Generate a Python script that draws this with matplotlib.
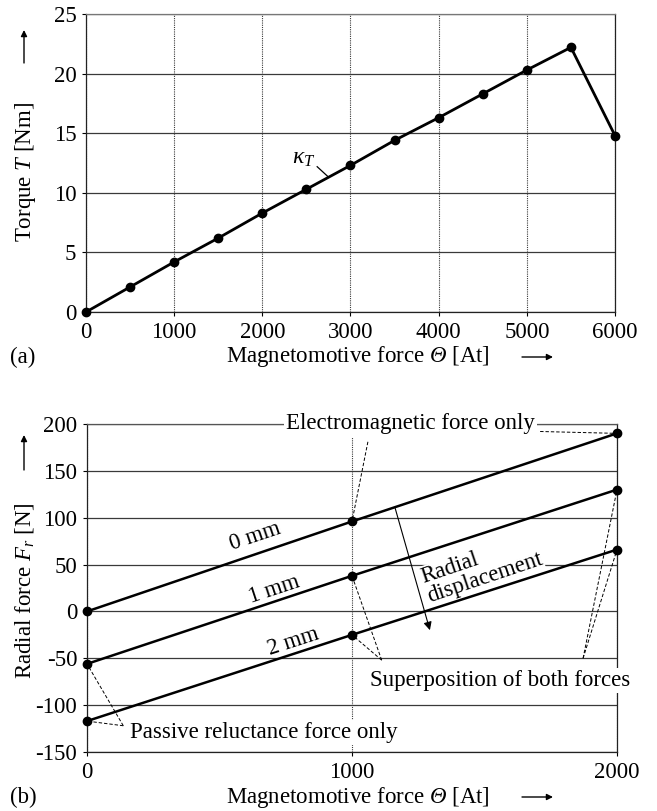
import numpy as np
import matplotlib.pyplot as plt

plt.rcParams['font.family'] = ['Liberation Serif', 'DejaVu Serif']
plt.rcParams['mathtext.fontset'] = 'custom'
plt.rcParams['mathtext.rm'] = 'Liberation Serif'
plt.rcParams['mathtext.it'] = 'Liberation Serif:italic'
plt.rcParams['mathtext.sf'] = 'Liberation Serif:italic'
plt.rcParams['axes.unicode_minus'] = False
plt.rcParams['font.size'] = 16.5

# (a) torque vs. magnetomotive force
theta_a = [0, 500, 1000, 1500, 2000, 2500, 3000, 3500, 4000, 4500, 5000, 5500, 6000]
torque = [0, 2.1, 4.2, 6.2, 8.3, 10.3, 12.3, 14.4, 16.3, 18.3, 20.3, 22.2, 14.8]
xticks_a = [0, 1000, 2000, 3000, 4000, 5000, 6000]
yticks_a = [0, 5, 10, 15, 20, 25]

# (b) radial force vs. magnetomotive force for three displacements
theta_b = [0, 1000, 2000]
fr_0mm = [0, 96, 190]
fr_1mm = [-56, 38, 130]
fr_2mm = [-117, -25, 66]
gap_labels = ['0 mm', '1 mm', '2 mm']
xticks_b = [0, 1000, 2000]
yticks_b = [-150, -100, -50, 0, 50, 100, 150, 200]

W, H = 657, 811


def px(x, y):
    # figure pixel (from top-left) -> figure fraction
    return (x / W, 1 - y / H)


fig = plt.figure(figsize=(W / 100, H / 100), dpi=100)
fig.patch.set_facecolor('white')

grid_col = '#3a3a3a'
dash = (0, (3.5, 2))


def style_axes(ax):
    ax.grid(axis='y', color=grid_col, lw=0.9, ls='-')
    ax.grid(axis='x', color=grid_col, lw=0.8, ls=(0, (1, 1)))
    for s in ax.spines.values():
        s.set_color('#222222')
        s.set_linewidth(0.9)
    ax.spines['top'].set_color('#777777')
    ax.tick_params(direction='out', length=3, width=0.8, pad=4, colors='black')


def axis_arrow(ax, p0, p1):
    ax.annotate('', xy=px(*p1), xytext=px(*p0), xycoords='figure fraction',
                textcoords='figure fraction', annotation_clip=False,
                arrowprops=dict(arrowstyle='-|>', color='black', lw=1.0,
                                mutation_scale=9, shrinkA=0, shrinkB=0))


# ---------- (a) ----------
ax1 = fig.add_axes([86 / W, 1 - 312 / H, 529 / W, 298 / H])
ax1.plot(theta_a, torque, color='black', lw=2.0, marker='o', ms=6, clip_on=False, zorder=4)
ax1.set_xlim(0, 6000)
ax1.set_ylim(0, 25)
ax1.set_xticks(xticks_a)
ax1.set_yticks(yticks_a)
style_axes(ax1)

ax1.text(2474, 12.9, r'$\kappa_T$', ha='center', va='center', fontsize=17)
ax1.plot([2622, 2753], [12.19, 11.3], color='black', lw=0.9)

fig.text(*px(25, 172), r'Torque $T$ [Nm]', rotation=90, ha='center', va='center')
axis_arrow(ax1, (24, 63), (24, 30))
fig.text(*px(358, 357), r'Magnetomotive force $\mathsf{Θ}$ [At]', ha='center', va='center')
axis_arrow(ax1, (522, 357), (553, 357))
fig.text(*px(10, 357), '(a)', ha='left', va='center')

# ---------- (b) ----------
ax2 = fig.add_axes([87 / W, 1 - 752 / H, 530 / W, 328 / H])
for fr, lab in zip([fr_0mm, fr_1mm, fr_2mm], gap_labels):
    ax2.plot(theta_b, fr, color='black', lw=1.8, marker='o', ms=6, clip_on=False, zorder=4)
ax2.set_xlim(0, 2000)
ax2.set_ylim(-150, 200)
ax2.set_xticks(xticks_b)
ax2.set_yticks(yticks_b)
style_axes(ax2)
ax2.spines['top'].set_color('#555555')

# labels of the displacement lines, rotated along each line
label_pos = [(634, 80), (707, 23.5), (777, -32)]
for fr, lab, (lx, ly) in zip([fr_0mm, fr_1mm, fr_2mm], gap_labels, label_pos):
    ang = np.degrees(np.arctan2(fr[-1] - fr[0], theta_b[-1] - theta_b[0]))
    ax2.text(lx, ly, lab, rotation=ang, transform_rotates_text=True,
             rotation_mode='anchor', ha='center', va='center')

ang0 = np.degrees(np.arctan2(fr_0mm[-1] - fr_0mm[0], 2000))
ax2.text(1490, 46, 'Radial\ndisplacement', rotation=ang0, transform_rotates_text=True,
         rotation_mode='anchor', ha='center', va='center', multialignment='left',
         linespacing=0.95, zorder=3,
         bbox=dict(facecolor='white', edgecolor='none', pad=0.5))
ax2.annotate('', xy=(1294, -20), xytext=(1162, 111),
             arrowprops=dict(arrowstyle='-|>', color='black', lw=0.8,
                             mutation_scale=12, shrinkA=0, shrinkB=0))

box = dict(facecolor='white', edgecolor='none', pad=1.5)
ax2.text(1219, 200, 'Electromagnetic force only', ha='center', va='center',
         bbox=box, zorder=5, clip_on=False)
ax2.text(1558, -74, 'Superposition of both forces', ha='center', va='center',
         bbox=box, zorder=5, clip_on=False)
ax2.text(666, -129.5, 'Passive reluctance force only', ha='center', va='center',
         bbox=box, zorder=5, clip_on=False)

leaders = [
    ((1060, 181), (1000, fr_0mm[1])),
    ((1710, 192), (2000, fr_0mm[2])),
    ((1112, -52), (1000, fr_1mm[1])),
    ((1112, -52), (1000, fr_2mm[1])),
    ((1872, -50), (2000, fr_1mm[2])),
    ((1872, -50), (2000, fr_2mm[2])),
    ((137, -122), (0, fr_1mm[0])),
    ((137, -122), (0, fr_2mm[0])),
]
for (x0, y0), (x1, y1) in leaders:
    ax2.plot([x0, x1], [y0, y1], color='black', lw=0.7, ls=dash, zorder=3, clip_on=False)

fig.text(*px(25, 591), r'Radial force $F_r$ [N]', rotation=90, ha='center', va='center')
axis_arrow(ax2, (24, 470), (24, 435))
fig.text(*px(358, 797), r'Magnetomotive force $\mathsf{Θ}$ [At]', ha='center', va='center')
axis_arrow(ax2, (522, 797), (553, 797))
fig.text(*px(10, 797), '(b)', ha='left', va='center')

fig.savefig('out.png', dpi=100)
